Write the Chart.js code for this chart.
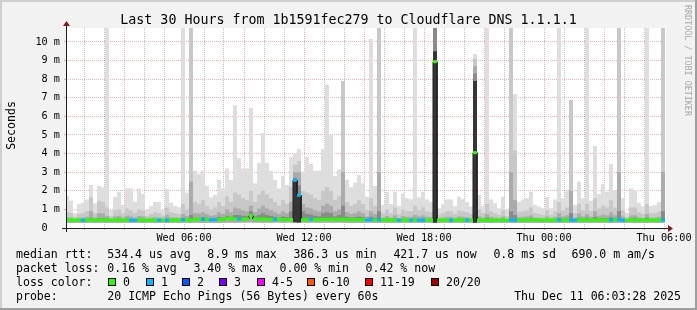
<!DOCTYPE html>
<html><head><meta charset="utf-8"><title>Smokeping</title>
<script src="https://cdn.jsdelivr.net/npm/chart.js@4.4.1/dist/chart.umd.min.js"></script>
<style>
html,body{margin:0;padding:0;background:#f2f2f2;overflow:hidden}
#wrap{position:relative;width:697px;height:310px}
#c,#ov{position:absolute;left:0;top:0}
#ov text{font-family:'DejaVu Sans Mono',monospace;white-space:pre}
</style></head><body>
<div id="wrap"><canvas id="c" width="697" height="310"></canvas>
<svg id="ov" width="697" height="310" xmlns="http://www.w3.org/2000/svg"></svg></div>
<script>
// ---------------- texts ----------------
const titleText = 'Last 30 Hours from 1b1591fec279 to Cloudflare DNS 1.1.1.1';
const yAxisTitle = 'Seconds';
const watermark = 'RRDTOOL / TOBI OETIKER';
const xTickLabels = ['Wed 06:00', 'Wed 12:00', 'Wed 18:00', 'Thu 00:00', 'Thu 06:00'];
const yTickLabels = ['0  ', '1 m', '2 m', '3 m', '4 m', '5 m', '6 m', '7 m', '8 m', '9 m', '10 m'];
const rttStats = ['median rtt:', '534.4 us avg', '8.9 ms max', '386.3 us min', '421.7 us now', '0.8 ms sd', '690.0 m am/s'];
const lossStats = ['packet loss:', '0.16 % avg', '3.40 % max', '0.00 % min', '0.42 % now'];
const probeInfo = ['probe:', '20 ICMP Echo Pings (56 Bytes) every 60s', 'Thu Dec 11 06:03:28 2025'];
const lossTitle = 'loss color:';
const lossLabels = ['0', '1', '2', '3', '4-5', '6-10', '11-19', '20/20'];
const lossColors = ['#26ff00', '#00b8ff', '#0059ff', '#7e00ff', '#ff00ff', '#ff5500', '#ff0000', '#a10000'];

// ---------------- data: 150 bins of 12 minutes (Wed 00:00 .. Thu 06:00), values in ms ----------------
const minArr = [
0.28,0.27,0.28,0.28,0.27,0.28,0.28,0.27,0.28,0.28,
0.27,0.28,0.28,0.27,0.28,0.28,0.27,0.28,0.28,0.27,
0.28,0.28,0.27,0.28,0.28,0.27,0.28,0.28,0.27,0.28,
0.28,0.27,0.28,0.28,0.27,0.28,0.28,0.27,0.28,0.28,
0.29,0.29,0.28,0.29,0.29,0.30,0.30,0.29,0.29,0.28,
0.29,0.28,0.29,0.29,0.28,0.29,0.29,0.30,0.29,0.29,
0.28,0.29,0.29,0.28,0.29,0.29,0.28,0.29,0.29,0.28,
0.28,0.27,0.28,0.28,0.27,0.28,0.28,0.27,0.28,0.28,
0.27,0.28,0.28,0.27,0.28,0.28,0.27,0.28,0.28,0.27,
0.28,0.28,0.28,0.27,0.28,0.28,0.27,0.28,0.28,0.27,
0.28,0.28,0.28,0.27,0.28,0.28,0.27,0.28,0.28,0.27,
0.28,0.28,0.27,0.28,0.28,0.27,0.28,0.28,0.27,0.28,
0.28,0.27,0.28,0.28,0.27,0.28,0.28,0.27,0.28,0.28,
0.27,0.28,0.28,0.27,0.28,0.28,0.27,0.28,0.28,0.27,
0.28,0.28,0.27,0.28,0.28,0.27,0.28,0.28,0.27,0.28];
const maxArr = [
1.72,1.47,0.80,1.29,1.36,1.54,2.31,1.33,2.26,2.19,
12,0.97,1.68,1.95,1.24,2.13,2.13,1.42,2.13,1.83,
0.97,1.18,1.40,1.40,0.97,2.10,1.36,1.18,1.11,12,
1.90,12,3.08,2.90,3.08,2.26,1.65,1.77,2.58,2.13,
3.20,2.58,6.60,3.75,3.20,3.20,6.45,2.40,3.50,5.10,
3.50,3.08,2.58,2.13,2.80,2.31,3.83,4.00,4.25,3.03,
3.83,3.44,3.08,3.08,4.23,7.70,5.00,2.80,3.15,7.90,
2.60,2.19,2.44,2.85,2.40,1.68,10.16,2.26,12,1.24,
1.95,1.29,1.95,1.18,1.86,1.60,1.54,12,1.65,1.95,
1.54,1.40,12,1.06,1.29,1.54,1.54,1.18,1.68,1.55,
1.40,1.15,9.35,1.77,1.20,12,1.54,1.33,1.06,1.68,
0.97,12,7.20,1.40,1.54,1.60,1.95,1.24,1.15,1.06,
1.68,1.06,1.54,12,1.60,2.00,6.88,1.24,2.49,1.60,
12,1.47,4.41,1.83,2.37,1.95,3.44,2.04,12,1.60,
0.82,2.13,2.04,1.36,1.15,12,1.18,1.24,1.40,12];
const hi2Arr = [
0.85,0.80,0.60,0.75,0.80,0.90,1.65,0.80,1.45,1.40,
1.10,0.65,0.95,1.00,0.80,1.05,0.95,0.80,1.00,0.95,
0.65,0.75,0.85,0.80,0.65,1.10,0.85,0.80,0.75,1.30,
1.00,12,1.40,1.30,1.50,1.20,1.00,1.10,1.40,1.20,
1.70,1.40,1.90,1.80,1.60,1.50,2.00,1.40,1.80,2.00,
1.80,1.60,1.40,1.20,1.50,1.30,2.20,3.40,3.60,2.00,
1.90,1.80,1.60,1.50,2.00,2.20,2.00,1.50,1.70,7.90,
1.40,1.20,1.30,1.50,1.30,0.95,1.60,1.20,12,0.80,
1.00,0.80,1.10,0.75,1.00,0.90,0.90,1.20,0.95,1.10,
0.90,0.85,12,0.70,0.80,0.90,0.90,0.75,0.95,0.90,
0.85,0.75,9.10,1.00,0.80,1.30,0.90,0.80,0.70,0.95,
0.65,12,4.15,0.85,0.90,0.95,1.10,0.80,0.75,0.70,
0.95,0.70,0.90,1.40,0.95,1.10,6.88,0.80,1.30,0.95,
1.30,0.90,1.60,1.05,1.20,1.10,1.50,1.10,12,0.95,
0.60,1.10,1.10,0.85,0.75,1.30,0.80,0.80,0.90,12];
const hi3Arr = [
0.58,0.56,0.50,0.55,0.56,0.60,0.90,0.56,0.80,0.78,
0.65,0.52,0.62,0.65,0.56,0.66,0.62,0.56,0.64,0.62,
0.52,0.55,0.58,0.56,0.52,0.70,0.58,0.56,0.55,0.75,
0.65,2.50,0.80,0.78,0.85,0.75,0.66,0.70,0.85,0.75,
1.00,0.85,1.10,1.05,0.95,0.90,1.20,0.85,1.05,1.20,
1.05,0.95,0.85,0.75,0.90,0.80,1.40,3.00,3.00,1.30,
1.10,1.05,0.95,0.90,1.20,1.30,1.20,0.90,1.00,3.00,
0.85,0.75,0.80,0.90,0.80,0.62,0.90,0.75,3.00,0.56,
0.65,0.56,0.68,0.54,0.65,0.60,0.60,0.70,0.62,0.68,
0.60,0.58,12,0.52,0.56,0.60,0.60,0.54,0.62,0.60,
0.58,0.54,8.70,0.65,0.56,0.75,0.60,0.56,0.52,0.62,
0.50,3.00,1.50,0.58,0.60,0.62,0.68,0.56,0.54,0.52,
0.62,0.52,0.60,0.80,0.62,0.68,2.00,0.56,0.78,0.62,
0.75,0.60,0.90,0.66,0.72,0.68,0.85,0.68,3.00,0.62,
0.48,0.68,0.68,0.58,0.54,0.75,0.56,0.56,0.60,3.00];
const hi4Arr = [
0.47,0.47,0.45,0.46,0.47,0.48,0.55,0.47,0.52,0.52,
0.50,0.45,0.48,0.50,0.47,0.50,0.48,0.47,0.49,0.48,
0.45,0.46,0.47,0.46,0.45,0.50,0.47,0.46,0.46,0.52,
0.50,0.70,0.55,0.55,0.58,0.55,0.50,0.52,0.60,0.55,
0.65,0.60,0.70,0.70,0.65,0.65,0.90,0.62,0.70,0.80,
0.70,0.65,0.60,0.55,0.62,0.58,0.90,2.70,2.30,0.90,
0.75,0.72,0.66,0.62,0.80,0.85,0.80,0.62,0.70,1.20,
0.60,0.55,0.58,0.62,0.58,0.50,0.60,0.55,0.90,0.46,
0.50,0.46,0.52,0.45,0.50,0.48,0.48,0.52,0.49,0.52,
0.48,0.47,12,0.45,0.46,0.48,0.48,0.45,0.49,0.48,
0.47,0.45,8.30,0.50,0.46,0.55,0.48,0.46,0.45,0.49,
0.44,0.90,0.70,0.47,0.48,0.49,0.52,0.46,0.45,0.45,
0.49,0.45,0.48,0.55,0.49,0.52,0.80,0.46,0.55,0.49,
0.55,0.48,0.60,0.51,0.53,0.52,0.58,0.52,0.90,0.49,
0.44,0.52,0.52,0.47,0.46,0.55,0.46,0.46,0.48,0.90];
const darkBins = [57, 58, 92, 102];
const darkTops = [2.50, 1.70, 9.50, 7.90];
const medArr = [
0.43,0.42,0.42,0.43,0.42,0.42,0.44,0.42,0.43,0.43,
0.43,0.42,0.42,0.43,0.42,0.43,0.42,0.42,0.43,0.42,
0.42,0.42,0.43,0.42,0.42,0.42,0.42,0.42,0.42,0.43,
0.42,0.43,0.45,0.47,0.46,0.46,0.44,0.45,0.46,0.45,
0.52,0.50,0.49,0.48,0.47,0.48,0.66,0.48,0.47,0.49,
0.46,0.46,0.45,0.47,0.46,0.44,0.45,2.58,1.77,0.44,
0.45,0.46,0.45,0.46,0.46,0.46,0.47,0.45,0.46,0.47,
0.45,0.44,0.45,0.45,0.44,0.43,0.44,0.43,0.44,0.43,
0.43,0.43,0.42,0.42,0.43,0.42,0.42,0.43,0.42,0.42,
0.42,0.43,8.94,0.42,0.43,0.42,0.42,0.43,0.42,0.43,
0.42,0.43,4.05,0.42,0.43,0.42,0.42,0.42,0.43,0.42,
0.42,0.42,0.42,0.43,0.42,0.43,0.42,0.43,0.43,0.42,
0.43,0.42,0.43,0.42,0.42,0.43,0.42,0.42,0.43,0.43,
0.43,0.42,0.43,0.44,0.43,0.42,0.43,0.44,0.43,0.42,
0.42,0.43,0.42,0.42,0.43,0.42,0.42,0.43,0.42,0.42];
const lossArr = [
0,0,0,0,1,0,0,0,0,0,
0,0,0,0,0,0,1,1,0,0,
0,0,0,1,0,1,0,0,0,1,
0,0,0,0,1,0,1,1,0,0,
0,0,0,1,0,0,0,0,0,0,
0,0,1,0,0,0,0,1,1,0,
0,1,0,0,0,0,0,0,0,0,
0,0,0,0,0,1,1,0,1,0,
0,0,0,1,0,0,1,0,1,1,
0,0,0,0,0,0,1,0,0,0,
1,0,0,0,0,0,0,0,0,0,
0,1,1,0,0,0,0,0,0,0,
0,0,0,1,0,0,1,1,0,0,
0,0,0,0,0,0,1,0,1,1,
0,0,0,0,0,0,0,0,0,1];

// ---------------- build datasets ----------------
function layer(tops, bases, color, order) {
  return {
    type: 'bar', order: order, backgroundColor: color,
    data: tops.map((v, k) => ({x: k + 0.5, y: [bases[k], v]}))
  };
}
const datasets = [
  layer(maxArr, minArr, '#dedede', 10),
  layer(hi2Arr, minArr, '#c8c8c8', 9),
  layer(hi3Arr, minArr, '#ababab', 8),
  layer(hi4Arr, medArr, '#8a8a8a', 7),
  {type: 'bar', order: 6, backgroundColor: '#363636',
   data: darkBins.map((k, i) => ({x: k + 0.5, y: [minArr[k], darkTops[i]]}))}
];
const medPts = [];
medArr.forEach((m, k) => { medPts.push({x: k, y: m}, {x: k + 1, y: m}); });
datasets.push({type: 'line', order: 2, data: medPts, borderColor: '#1e1e1e', borderWidth: 1,
  pointRadius: 0, tension: 0, clip: 0});
datasets.push({type: 'line', order: 1, data: medPts, borderWidth: 3, borderCapStyle: 'butt',
  pointRadius: 0, tension: 0, clip: 0,
  segment: {borderColor: ctx => ctx.p0.parsed.x === ctx.p1.parsed.x ? 'rgba(0,0,0,0)'
      : lossColors[lossArr[Math.floor(ctx.p0DataIndex / 2)]]}});

const GRID = 'rgba(143,143,143,0.55)';
const MGRID = 'rgba(222,79,79,0.45)';
const MONO = "'DejaVu Sans Mono', monospace";

const rrdPlugin = {
  id: 'rrd',
  beforeDraw(chart) {
    const {ctx, chartArea: a, width, height} = chart;
    ctx.save();
    ctx.fillStyle = '#f2f2f2'; ctx.fillRect(0, 0, width, height);
    ctx.fillStyle = '#cfcfcf'; ctx.fillRect(0, 0, width, 2); ctx.fillRect(0, 0, 2, height);
    ctx.fillStyle = '#9e9e9e'; ctx.fillRect(0, height - 2, width, 2); ctx.fillRect(width - 2, 0, 2, height);
    ctx.fillStyle = '#ffffff'; ctx.fillRect(a.left, a.top, a.right - a.left, a.bottom - a.top);
    ctx.restore();
  },
  afterDatasetsDraw(chart) {
    const {ctx, chartArea: a} = chart;
    ctx.save();
    ctx.strokeStyle = 'rgb(31,31,31)'; ctx.lineWidth = 1;
    ctx.beginPath();
    ctx.moveTo(a.left - 4, a.bottom + 0.5); ctx.lineTo(a.right + 4, a.bottom + 0.5);
    ctx.moveTo(a.left + 0.5, a.bottom + 4); ctx.lineTo(a.left + 0.5, a.top - 4);
    ctx.stroke();
    ctx.fillStyle = 'rgb(128,31,31)';
    ctx.beginPath();
    ctx.moveTo(a.right + 2, a.bottom - 3); ctx.lineTo(a.right + 2, a.bottom + 4); ctx.lineTo(a.right + 7, a.bottom + 0.5);
    ctx.closePath(); ctx.fill();
    ctx.beginPath();
    ctx.moveTo(a.left - 3, a.top - 2); ctx.lineTo(a.left + 4, a.top - 2); ctx.lineTo(a.left + 0.5, a.top - 7);
    ctx.closePath(); ctx.fill();
    ctx.restore();
  }
};

const hourOf = v => Math.round((v + 0.25) / 5);
const xGridColor = c => (c.tick && hourOf(c.tick.value) % 3 === 0 ? MGRID : GRID);
const yGridColor = c => (c.tick && c.tick.value % 1 === 0 ? MGRID : GRID);

new Chart(document.getElementById('c'), {
  type: 'bar',
  data: {datasets},
  plugins: [rrdPlugin],
  options: {
    responsive: false, animation: false, devicePixelRatio: 1,
    layout: {padding: {top: 28, right: 31, left: 0, bottom: 0}},
    plugins: {legend: {display: false}, tooltip: {enabled: false}, title: {display: false}},
    datasets: {bar: {grouped: false, barPercentage: 1, categoryPercentage: 1, borderWidth: 0, inflateAmount: 0}},
    scales: {
      x: {
        type: 'linear', min: 0.25, max: 150.25, offset: false,
        afterBuildTicks: s => { const t = []; for (let h = 1; h <= 30; h++) t.push({value: h * 5 - 0.25}); s.ticks = t; },
        afterFit: s => { s.height = 82; s.paddingLeft = 0; s.paddingRight = 0; },
        grid: {offset: false, color: xGridColor, tickColor: xGridColor, lineWidth: 1,
               drawTicks: true, tickLength: 2, tickBorderDash: []},
        border: {display: false, dash: [1, 1]},
        ticks: {autoSkip: false, maxRotation: 0, minRotation: 0, padding: 2, color: '#000',
                font: {family: MONO, size: 10.2},
                callback: v => { const h = hourOf(v); return h % 6 === 0 ? xTickLabels[h / 6 - 1] : ''; }}
      },
      y: {
        type: 'linear', min: 0, max: 10.75, offset: false,
        afterBuildTicks: s => { const t = []; for (let i = 0; i <= 21; i++) t.push({value: i * 0.5}); s.ticks = t; },
        afterFit: s => { s.width = 66; s.paddingTop = 0; s.paddingBottom = 0; },
        grid: {offset: false, color: yGridColor, tickColor: yGridColor, lineWidth: 1,
               drawTicks: true, tickLength: 2, tickBorderDash: []},
        border: {display: false, dash: [1, 1]},
        ticks: {padding: 4, color: '#000', font: {family: MONO, size: 10.2},
                callback: v => (v % 1 === 0 ? yTickLabels[v] : '')}
      }
    }
  }
});

// ---------------- text overlay ----------------
const svg = document.getElementById('ov');
const NS = 'http://www.w3.org/2000/svg';
function txt(str, x, y, o = {}) {
  const t = document.createElementNS(NS, 'text');
  t.setAttribute('x', x); t.setAttribute('y', y);
  t.setAttribute('font-size', o.size || 11.55);
  t.setAttribute('fill', o.fill || '#000');
  if (o.anchor) t.setAttribute('text-anchor', o.anchor);
  if (o.transform) t.setAttribute('transform', o.transform);
  t.textContent = str;
  svg.appendChild(t);
}
txt(titleText, 348.5, 24, {size: 13.3, anchor: 'middle'});
txt(yAxisTitle, 0, 0, {anchor: 'middle', transform: 'translate(15,125.5) rotate(-90)'});
txt(watermark, 0, 0, {size: 8.4, fill: '#a8a8a8', transform: 'translate(685,5) rotate(90)'});
const l1x = [16, 107.3, 207.3, 293.4, 393.4, 493.4, 571.5];
rttStats.forEach((s, i) => txt(s, l1x[i], 258));
const l2x = [16, 107.3, 193.4, 279.5, 365.6];
lossStats.forEach((s, i) => txt(s, l2x[i], 272));
txt(lossTitle, 16, 286);
const boxX = [108, 146, 182, 219, 257, 307, 365, 431];
lossLabels.forEach((s, i) => {
  const r = document.createElementNS(NS, 'rect');
  r.setAttribute('x', boxX[i] + 0.5); r.setAttribute('y', 278.5);
  r.setAttribute('width', 7); r.setAttribute('height', 7);
  r.setAttribute('fill', lossColors[i]); r.setAttribute('stroke', '#000'); r.setAttribute('stroke-width', 1);
  svg.appendChild(r);
  txt(s, boxX[i] + 15, 286);
});
txt(probeInfo[0], 16, 300);
txt(probeInfo[1], 107.3, 300);
txt(probeInfo[2], 681, 300, {anchor: 'end'});
</script>
</body></html>
